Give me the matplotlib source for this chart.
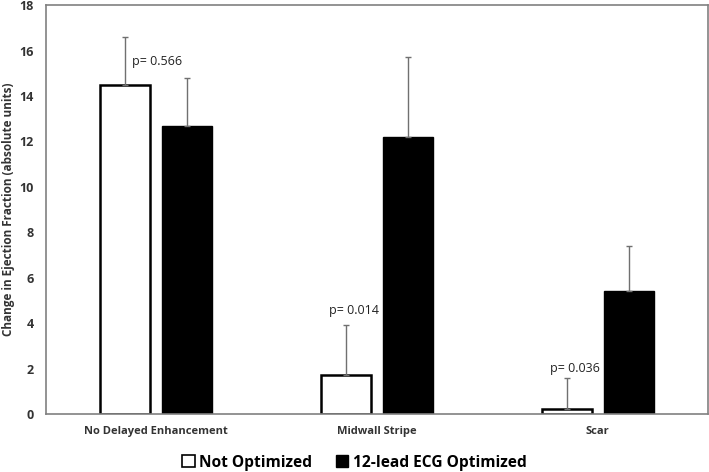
import matplotlib
matplotlib.use("Agg")
import matplotlib.pyplot as plt
import numpy as np
from matplotlib.patches import Patch

categories = ["No Delayed Enhancement", "Midwall Stripe", "Scar"]
not_opt = [14.5, 1.7, 0.2]
not_opt_err = [2.1, 2.2, 1.4]
ecg_opt = [12.7, 12.2, 5.4]
ecg_opt_err = [2.1, 3.5, 2.0]
p_labels = ["p= 0.566", "p= 0.014", "p= 0.036"]
p_y = [15.5, 4.55, 2.0]
series_names = ["Not Optimized", "12-lead ECG Optimized"]
yticks = [0, 2, 4, 6, 8, 10, 12, 14, 16, 18]

plt.rcParams['font.family'] = ['Open Sans', 'DejaVu Sans']

fig = plt.figure(figsize=(7.09, 4.72), dpi=100)
ax = fig.add_axes([0.0649, 0.1229, 0.9337, 0.8661])

x = np.arange(len(categories))
w = 0.227
off = 0.14
ekw = dict(ecolor="#707070", elinewidth=1.0, capsize=2.5, capthick=1.0)
ax.bar(x - off, not_opt, w, color="white", edgecolor="black", linewidth=1.8,
       yerr=[np.zeros(3), not_opt_err], error_kw=ekw, zorder=2)
ax.bar(x + off, ecg_opt, w, color="black", edgecolor="black", linewidth=1.0,
       yerr=[np.zeros(3), ecg_opt_err], error_kw=ekw, zorder=2)

p_dx = [0.005, -0.104, -0.105]
for i, (lab, py) in enumerate(zip(p_labels, p_y)):
    ax.text(x[i] + p_dx[i], py, lab, ha="center", va="center",
            fontsize=9, color="#222222")

ax.set_xlim(-0.5, 2.5)
ax.set_ylim(0, 18)
ax.set_yticks(yticks)
ax.set_xticks(x)
ax.set_xticklabels(categories, fontsize=8, fontweight="bold", color="#333333")
for t in ax.get_yticklabels():
    t.set_fontsize(9)
    t.set_fontweight("bold")
    t.set_color("#333333")
ax.tick_params(axis="y", length=0, pad=9)
ax.tick_params(axis="x", length=0, pad=9)
ax.set_ylabel("Change in Ejection Fraction (absolute units)", fontsize=8.5,
              fontweight="bold", color="#333333", labelpad=3)
for s in ax.spines.values():
    s.set_color("#808080")
    s.set_linewidth(1.2)

handles = [Patch(facecolor="white", edgecolor="black", linewidth=1.2),
           Patch(facecolor="black", edgecolor="black")]
fig.legend(handles, series_names, loc="center", bbox_to_anchor=(0.5, 0.02),
           ncol=2, frameon=False, prop={"size": 11.2, "weight": "bold"},
           handlelength=0.8, handleheight=0.8, handletextpad=0.3, columnspacing=1.5)

fig.savefig("out.png", dpi=100)
